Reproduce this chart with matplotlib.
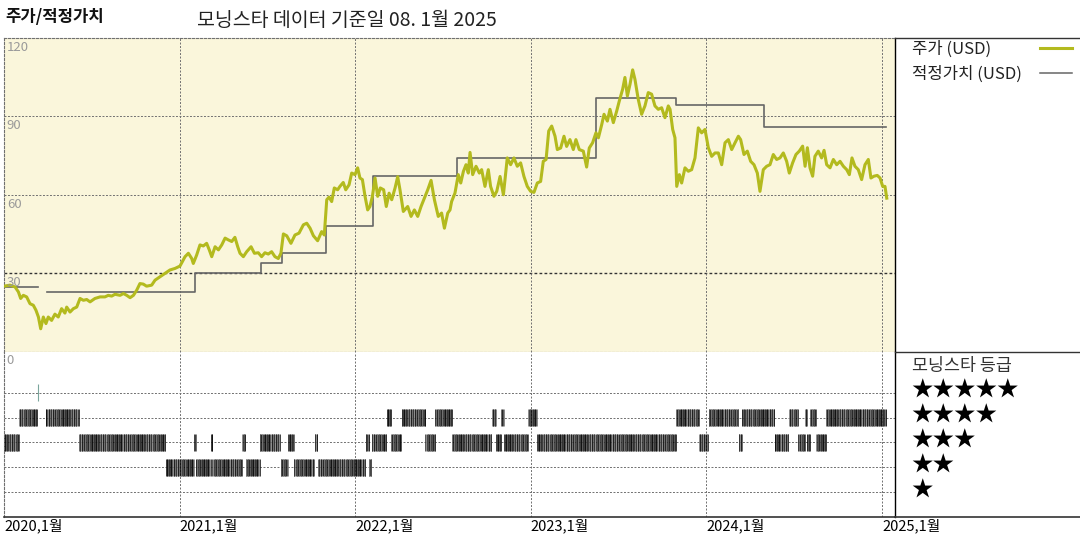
import numpy as np
import matplotlib
matplotlib.use('Agg')
import matplotlib.pyplot as plt
from matplotlib.lines import Line2D
import matplotlib.transforms as mtransforms

plt.rcParams['font.family'] = ['Noto Sans CJK KR', 'DejaVu Sans']

# ---------------- data ----------------
title_left = '주가/적정가치'
title_main = '모닝스타 데이터 기준일 08. 1월 2025'
legend_price = '주가 (USD)'
legend_fv = '적정가치 (USD)'
rating_title = '모닝스타 등급'

year_ticks = [2020, 2021, 2022, 2023, 2024, 2025]
year_labels = ['2020,1월', '2021,1월', '2022,1월', '2023,1월', '2024,1월', '2025,1월']
price_ticks = [30, 60, 90, 120]
price_tick_labels = ['30', '60', '90', '120']

# price (decimal year, USD)
price_t = [
    2020.000, 2020.034, 2020.063, 2020.082, 2020.095, 2020.110, 2020.129, 2020.148, 2020.167, 2020.182,
    2020.196, 2020.209, 2020.224, 2020.239, 2020.252, 2020.271, 2020.290, 2020.309, 2020.328, 2020.347,
    2020.357, 2020.376, 2020.395, 2020.414, 2020.433, 2020.452, 2020.471, 2020.490, 2020.518, 2020.547,
    2020.575, 2020.594, 2020.613, 2020.632, 2020.661, 2020.680, 2020.699, 2020.718, 2020.737, 2020.756,
    2020.774, 2020.793, 2020.812, 2020.841, 2020.860, 2020.888, 2020.917, 2020.945, 2020.974, 2021.002,
    2021.031, 2021.050, 2021.069, 2021.078, 2021.097, 2021.116, 2021.135, 2021.154, 2021.169, 2021.183,
    2021.202, 2021.221, 2021.240, 2021.259,
    2021.278, 2021.297, 2021.315, 2021.331, 2021.344, 2021.363, 2021.382, 2021.407, 2021.426, 2021.448,
    2021.467, 2021.486, 2021.505, 2021.524, 2021.543, 2021.562, 2021.577, 2021.591, 2021.610, 2021.634,
    2021.657, 2021.680, 2021.705, 2021.724, 2021.743, 2021.762, 2021.786, 2021.809, 2021.824, 2021.838,
    2021.851, 2021.866, 2021.881, 2021.900, 2021.913, 2021.932, 2021.946, 2021.965, 2021.980, 2021.999,
    2022.014, 2022.027, 2022.041, 2022.056, 2022.071, 2022.084, 2022.098, 2022.113, 2022.128, 2022.143,
    2022.162, 2022.177, 2022.193, 2022.208, 2022.227, 2022.242, 2022.255, 2022.274, 2022.299, 2022.318,
    2022.337, 2022.356, 2022.375, 2022.394, 2022.413, 2022.432, 2022.451, 2022.473, 2022.492, 2022.508,
    2022.527,
    2022.540, 2022.549, 2022.568, 2022.587, 2022.601, 2022.616, 2022.631, 2022.644, 2022.654, 2022.669,
    2022.688, 2022.707, 2022.720, 2022.739, 2022.758, 2022.771, 2022.790, 2022.806, 2022.825, 2022.844,
    2022.866, 2022.885, 2022.904, 2022.923, 2022.942, 2022.961, 2022.980, 2022.999, 2023.018, 2023.037,
    2023.056, 2023.071, 2023.087, 2023.102, 2023.119, 2023.138, 2023.151, 2023.170, 2023.189, 2023.204,
    2023.223, 2023.242, 2023.257, 2023.276, 2023.299, 2023.318, 2023.333, 2023.352, 2023.371, 2023.385,
    2023.404, 2023.417, 2023.436, 2023.451, 2023.470, 2023.489, 2023.504, 2023.523, 2023.536, 2023.550,
    2023.565, 2023.580, 2023.593, 2023.612, 2023.631, 2023.650, 2023.669, 2023.688, 2023.707, 2023.726,
    2023.745, 2023.764, 2023.783,
    2023.793, 2023.808, 2023.821, 2023.831, 2023.846, 2023.859, 2023.878, 2023.897, 2023.916, 2023.935,
    2023.954, 2023.973, 2023.992, 2024.011, 2024.030, 2024.049, 2024.068, 2024.087, 2024.106, 2024.125,
    2024.144, 2024.163, 2024.182, 2024.195, 2024.214, 2024.233, 2024.252, 2024.271, 2024.290, 2024.305,
    2024.324, 2024.343, 2024.362, 2024.381, 2024.400, 2024.419, 2024.438, 2024.457, 2024.472, 2024.491,
    2024.510, 2024.529, 2024.548, 2024.562, 2024.575, 2024.590, 2024.605, 2024.618, 2024.637, 2024.656,
    2024.670, 2024.685, 2024.704, 2024.723, 2024.742, 2024.761, 2024.780, 2024.799, 2024.814, 2024.829,
    2024.846, 2024.865, 2024.884, 2024.903, 2024.922, 2024.937, 2024.954, 2024.973, 2024.989, 2025.004,
    2025.017, 2025.027,
]
price_v = [
    25.0, 25.4, 24.7, 22.8, 20.3, 21.5, 20.9, 18.3, 17.7, 15.8,
    13.2, 8.7, 13.2, 10.7, 13.2, 11.9, 14.3, 13.2, 16.4, 14.7,
    17.0, 15.1, 16.4, 17.0, 20.3, 19.6, 19.9, 19.0, 20.3, 20.9,
    20.9, 21.5, 21.2, 21.9, 21.5, 22.2, 21.5, 20.6, 21.5, 23.5,
    26.0, 25.8, 25.0, 25.4, 27.3, 28.6, 29.9, 31.2, 31.8, 32.7,
    36.3, 37.6, 35.6, 33.7, 36.9, 40.8, 40.4, 41.4, 38.9, 36.3,
    40.1, 38.9, 40.8, 43.4,
    42.7, 42.1, 43.7, 40.1, 37.6, 36.3, 38.2, 40.1, 37.6, 37.8,
    36.3, 37.8, 37.3, 38.2, 36.3, 35.6, 37.6, 45.0, 44.3, 41.4,
    44.6, 45.3, 48.5, 49.1, 47.2, 44.3, 42.4, 45.9, 44.6, 58.1,
    59.1, 57.4, 62.6, 61.9, 63.2, 64.7, 61.9, 63.8, 68.3, 67.7,
    70.3, 66.4, 65.8, 59.4, 54.2, 55.5, 59.4, 66.4, 59.4, 62.6,
    61.9, 55.5, 60.6, 58.1, 62.6, 66.9, 61.9, 53.6, 55.5, 51.7,
    54.2, 51.7, 55.5, 58.7, 61.9, 65.5, 58.1, 51.7, 53.0, 47.2,
    53.0,
    54.2, 57.4, 60.6, 67.7, 64.5, 68.9, 71.5, 68.3, 76.2, 67.7,
    70.9, 68.3, 69.6, 63.2, 69.6, 63.2, 59.4, 61.3, 67.0, 60.0,
    74.1, 71.5, 74.1, 70.9, 72.2, 67.0, 63.2, 61.3, 60.9, 64.5,
    65.1, 72.8, 73.5, 84.4, 86.3, 82.4, 77.3, 77.9, 82.4, 78.5,
    81.1, 77.3, 81.1, 77.3, 76.7, 70.6, 77.9, 79.9, 83.7, 81.8,
    86.9, 90.8, 88.2, 92.7, 87.6, 92.0, 95.9, 100.4, 104.9, 97.8,
    102.3, 107.8, 104.2, 96.5, 90.8, 94.0, 99.1, 98.5, 94.0, 92.7,
    93.3, 89.5, 94.0,
    92.7, 85.0, 81.8, 63.2, 67.7, 64.5, 70.3, 69.0, 69.6, 74.1,
    85.6, 83.7, 85.0, 78.0, 74.7, 76.0, 76.0, 71.5, 79.9, 81.1,
    77.3, 79.9, 82.4, 81.1, 75.4, 76.7, 72.8, 71.5, 68.3, 61.3,
    69.6, 70.9, 71.5, 75.4, 73.5, 74.1, 76.0, 72.8, 68.3, 72.2,
    75.4, 76.7, 78.6, 70.9, 78.0, 70.3, 67.1, 74.7, 76.7, 74.1,
    77.0, 71.5, 70.3, 73.5, 71.5, 72.8, 70.9, 69.6, 67.7, 74.1,
    70.9, 69.6, 65.8, 71.5, 73.5, 66.4, 67.1, 67.4, 66.4, 63.2,
    63.2, 58.7,
]

# fair value steps (change date, value); NaN = no estimate
fv_t = [2020.006, 2020.192, 2020.243, 2021.088, 2021.464, 2021.581, 2021.834, 2022.100,
        2022.582, 2023.371, 2023.826, 2024.330, 2025.023]
fv_v = [24.7, np.nan, 22.7, 30.0, 33.7, 37.8, 48.0, 67.0,
        74.1, 96.9, 94.2, 86.0, 86.0]

# Morningstar rating periods
rating_start = [2020.000, 2020.085, 2020.238, 2020.427, 2020.922, 2021.083, 2021.093, 2021.178,
                2021.187, 2021.357, 2021.376, 2021.456, 2021.575, 2021.618, 2021.650, 2021.769,
                2021.788, 2022.060, 2022.076, 2022.094, 2022.180, 2022.205, 2022.264, 2022.400,
                2022.457, 2022.553, 2022.778, 2022.803, 2022.833, 2022.848, 2022.986, 2023.037,
                2023.829, 2023.957, 2024.012, 2024.183, 2024.205, 2024.388, 2024.470, 2024.524,
                2024.561, 2024.575, 2024.591, 2024.626, 2024.683]
rating_end = [2020.085, 2020.191, 2020.427, 2020.922, 2021.083, 2021.093, 2021.178, 2021.187,
              2021.357, 2021.376, 2021.456, 2021.575, 2021.618, 2021.650, 2021.769, 2021.788,
              2022.060, 2022.076, 2022.094, 2022.180, 2022.205, 2022.264, 2022.400, 2022.457,
              2022.553, 2022.778, 2022.803, 2022.833, 2022.848, 2022.986, 2023.037, 2023.829,
              2023.957, 2024.012, 2024.183, 2024.205, 2024.388, 2024.470, 2024.524, 2024.561,
              2024.575, 2024.591, 2024.626, 2024.683, 2025.024]
rating_stars = [3, 4, 4, 3, 2, 3, 2, 3,
                2, 3, 2, 3, 2, 3, 2, 3,
                2, 3, 2, 3, 4, 3, 4, 3,
                4, 3, 4, 3, 4, 3, 4, 3,
                4, 3, 4, 3, 4, 3, 4, 3,
                4, 3, 4, 3, 4]
five_star_marks = [2020.192]

# ---------------- style ----------------
W, H = 1080, 540
BG = '#faf6db'
PRICE_C = '#b3ba1e'
FV_C = '#666666'
GRID_C = '#707070'
GRID_LS = (0, (2.0, 1.6))
x_min, x_max = 2020.0, 2025.074


def fx(px):
    return px / W


def fy(py):
    return 1 - py / H


fig = plt.figure(figsize=(10.8, 5.4), dpi=100)
fig.patch.set_facecolor('white')

ax1 = fig.add_axes([fx(4), fy(351.5), fx(895) - fx(4), fy(38) - fy(351.5)])
ax2 = fig.add_axes([fx(4), fy(517), fx(895) - fx(4), fy(351.5) - fy(517)])

# ---- upper panel ----
ax1.set_facecolor(BG)
ax1.set_xlim(x_min, x_max)
ax1.set_ylim(0, 120)
for y in price_ticks[:-1]:
    ax1.axhline(y, color=GRID_C if y != 30 else '#333333', lw=0.7 if y != 30 else 1.0,
                ls=GRID_LS, zorder=1)
for x in year_ticks[1:]:
    ax1.axvline(x, color=GRID_C, lw=0.7, ls=GRID_LS, zorder=1)
ax1.step(fv_t, fv_v, where='post', color=FV_C, lw=1.2, zorder=2)
ax1.plot(price_t, price_v, color=PRICE_C, lw=2.2, zorder=3, solid_joinstyle='round')
ax1.set_xticks([])
ax1.set_yticks([])
for side in ['left', 'top', 'bottom']:
    ax1.spines[side].set_color(GRID_C)
    ax1.spines[side].set_linestyle(GRID_LS)
    ax1.spines[side].set_linewidth(0.8)
ax1.spines['right'].set_color('black')
ax1.spines['right'].set_linewidth(1.0)
for y, lab in zip(price_ticks, price_tick_labels):
    ax1.annotate(lab, xy=(x_min, y), xytext=(2, -2), textcoords='offset points',
                 ha='left', va='top', fontsize=9.5, color='#9a9a9a', zorder=4)

# ---- lower panel ----
ax2.set_facecolor('white')
ax2.set_xlim(x_min, x_max)
ax2.set_ylim(0, 6.66)
for r in [1, 2, 3, 4, 5]:
    ax2.axhline(r, color=GRID_C, lw=0.7, ls=GRID_LS, zorder=1)
for x in year_ticks[1:]:
    ax2.axvline(x, color=GRID_C, lw=0.7, ls=GRID_LS, zorder=1)
shades = ['#1a1a1a', '#555555', '#000000', '#3c3c3c', '#777777', '#222222']
k = 0
for s, e, r in zip(rating_start, rating_end, rating_stars):
    days = np.arange(s, e, 1 / 252)
    cols = [shades[(k + i) % len(shades)] for i in range(len(days))]
    k += len(days)
    ax2.vlines(days, r - 0.34, r + 0.34, colors=cols, lw=0.6, zorder=2)
ax2.vlines(five_star_marks, 5 - 0.34, 5 + 0.34, colors='#7aa59c', lw=0.8, zorder=2)
ax2.set_yticks([])
ax2.set_xticks(year_ticks)
ax2.set_xticklabels(year_labels, ha='left', fontsize=10.5)
ax2.tick_params(axis='x', length=0, pad=1.0)
ax2.spines['left'].set_color(GRID_C)
ax2.spines['left'].set_linestyle(GRID_LS)
ax2.spines['left'].set_linewidth(0.8)
ax2.spines['top'].set_visible(False)
ax2.spines['right'].set_color('black')
ax2.spines['right'].set_linewidth(1.0)
ax2.spines['bottom'].set_color('#333333')
ax2.spines['bottom'].set_linewidth(1.2)
ax2.annotate('0', xy=(x_min, 6.66), xytext=(2, -2), textcoords='offset points',
             ha='left', va='top', fontsize=9.5, color='#9a9a9a')

# ---- frame lines of the side panel ----
for (x0, y0, x1, y1, lw) in [(895, 38, 1080, 38, 1.0), (895, 351.5, 1080, 351.5, 1.0),
                             (895, 517, 1080, 517, 1.2)]:
    fig.add_artist(Line2D([fx(x0), fx(x1)], [fy(y0), fy(y1)], transform=fig.transFigure,
                          color='#333333', lw=lw))

# ---- titles ----
fig.text(fx(5), fy(17), title_left, ha='left', va='center', fontsize=12,
         fontweight='bold', color='#111111')
fig.text(fx(197), fy(20), title_main, ha='left', va='center', fontsize=14,
         color='#222222')

# ---- legend ----
fig.text(fx(912), fy(49), legend_price, ha='left', va='center', fontsize=12, color='#222222')
fig.text(fx(912), fy(74), legend_fv, ha='left', va='center', fontsize=12, color='#222222')
fig.add_artist(Line2D([fx(1040), fx(1072)], [fy(48), fy(48)], transform=fig.transFigure,
                      color=PRICE_C, lw=2.2))
fig.add_artist(Line2D([fx(1040), fx(1072)], [fy(73), fy(73)], transform=fig.transFigure,
                      color=FV_C, lw=1.1))

# ---- rating legend ----
fig.text(fx(912), fy(366), rating_title, ha='left', va='center', fontsize=12.5, color='#333333')
blend = mtransforms.blended_transform_factory(fig.transFigure, ax2.transData)
for r in [5, 4, 3, 2, 1]:
    fig.text(fx(911), r + 0.08, '★' * r, transform=blend, ha='left', va='center',
             fontsize=15.5, color='black')

fig.savefig('out.png', dpi=100, facecolor='white')
